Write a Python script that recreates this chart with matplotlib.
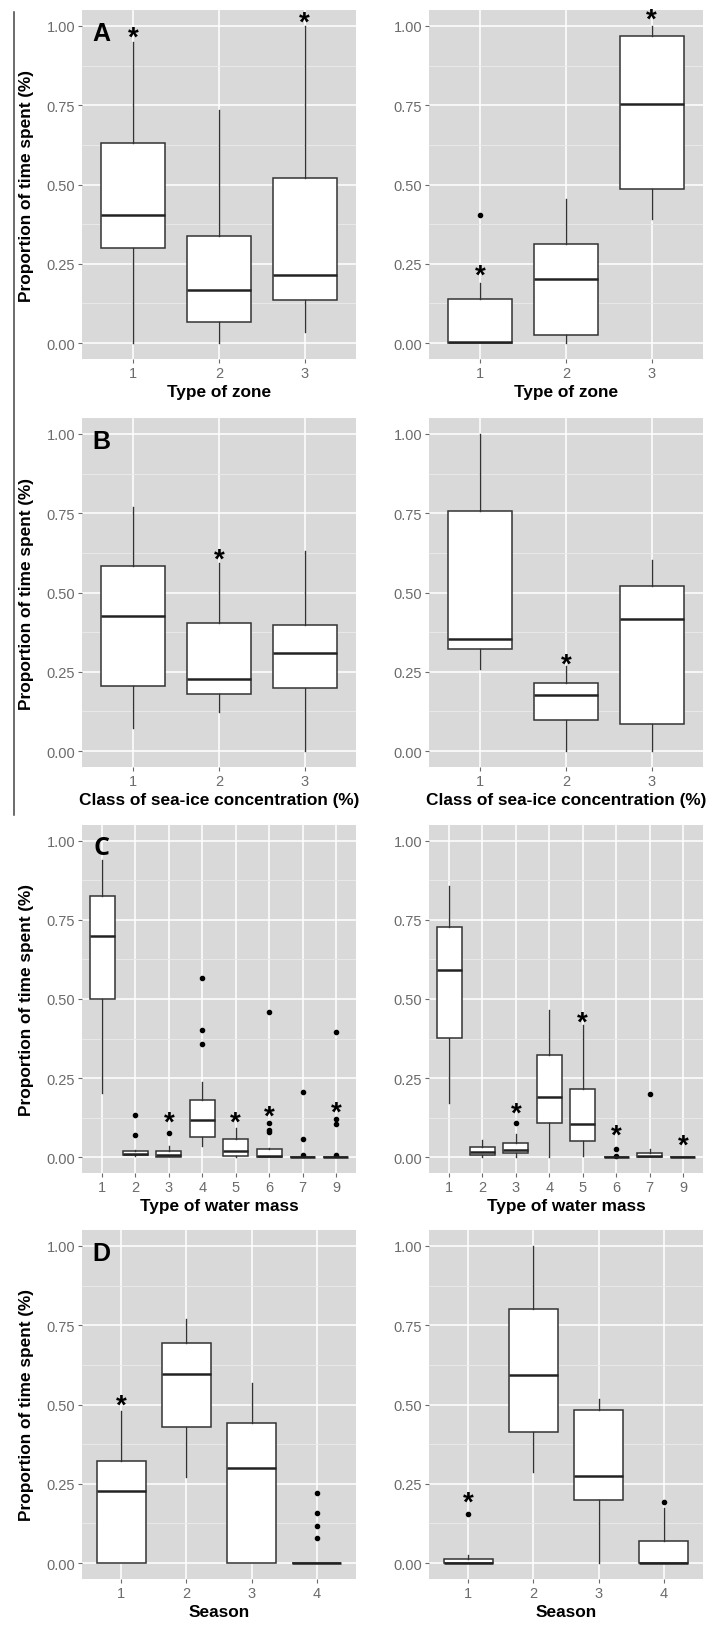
import numpy as np
import matplotlib
matplotlib.use("Agg")
import matplotlib.pyplot as plt
from matplotlib.lines import Line2D
from matplotlib import transforms

plt.rcParams['font.family'] = ['Liberation Sans', 'DejaVu Sans']

W, H = 708, 1631

# --- data: [whisker low, Q1, median, Q3, whisker high] ---
zone_cats = ['1', '2', '3']
zone_left = [[0.00, 0.299, 0.404, 0.632, 0.95],
             [0.00, 0.067, 0.168, 0.338, 0.734],
             [0.034, 0.136, 0.214, 0.519, 1.00]]
zone_left_fliers = [[], [], []]
zone_left_stars = [(1, 0.99), (3, 1.037)]
zone_right = [[0.00, 0.00, 0.004, 0.139, 0.191],
              [0.00, 0.026, 0.202, 0.312, 0.454],
              [0.391, 0.487, 0.753, 0.967, 1.00]]
zone_right_fliers = [[0.404], [], []]
zone_right_stars = [(1, 0.24), (3, 1.045)]

ice_cats = ['1', '2', '3']
ice_left = [[0.072, 0.205, 0.426, 0.582, 0.769],
            [0.123, 0.180, 0.226, 0.403, 0.593],
            [0.00, 0.199, 0.309, 0.398, 0.632]]
ice_left_fliers = [[], [], []]
ice_left_stars = [(2, 0.631)]
ice_right = [[0.258, 0.321, 0.355, 0.757, 1.00],
             [0.00, 0.099, 0.177, 0.215, 0.267],
             [0.00, 0.085, 0.417, 0.521, 0.602]]
ice_right_fliers = [[], [], []]
ice_right_stars = [(2, 0.299)]

water_cats = ['1', '2', '3', '4', '5', '6', '7', '9']
water_left = [[0.203, 0.499, 0.700, 0.825, 0.938],
              [0.003, 0.007, 0.011, 0.021, 0.024],
              [0.00, 0.002, 0.007, 0.018, 0.035],
              [0.034, 0.065, 0.119, 0.181, 0.239],
              [0.00, 0.003, 0.021, 0.056, 0.092],
              [0.00, 0.00, 0.005, 0.026, 0.03],
              [0.00, 0.00, 0.00, 0.00, 0.00],
              [0.00, 0.00, 0.00, 0.00, 0.00]]
water_left_fliers = [[], [0.132, 0.071], [0.076], [0.565, 0.403, 0.359], [],
                     [0.458, 0.108, 0.085, 0.080], [0.207, 0.058, 0.007],
                     [0.397, 0.122, 0.104, 0.007]]
water_left_stars = [(3, 0.134), (5, 0.134), (6, 0.153), (8, 0.168)]
water_right = [[0.172, 0.376, 0.592, 0.729, 0.858],
               [0.00, 0.006, 0.016, 0.031, 0.053],
               [0.00, 0.012, 0.023, 0.045, 0.074],
               [0.00, 0.109, 0.191, 0.324, 0.465],
               [0.003, 0.051, 0.104, 0.214, 0.419],
               [0.00, 0.00, 0.00, 0.00, 0.00],
               [0.00, 0.00, 0.003, 0.014, 0.026],
               [0.00, 0.00, 0.00, 0.00, 0.00]]
water_right_fliers = [[], [], [0.108], [], [], [0.027, 0.005], [0.199], []]
water_right_stars = [(3, 0.163), (5, 0.45), (6, 0.095), (8, 0.063)]

season_cats = ['1', '2', '3', '4']
season_left = [[0.00, 0.00, 0.227, 0.322, 0.478],
               [0.272, 0.429, 0.597, 0.694, 0.77],
               [0.00, 0.00, 0.301, 0.442, 0.569],
               [0.00, 0.00, 0.00, 0.00, 0.00]]
season_left_fliers = [[], [], [], [0.221, 0.158, 0.117, 0.080]]
season_left_stars = [(1, 0.522)]
season_right = [[0.00, 0.00, 0.001, 0.012, 0.027],
                [0.288, 0.412, 0.593, 0.800, 1.00],
                [0.00, 0.200, 0.274, 0.482, 0.517],
                [0.00, 0.00, 0.00, 0.071, 0.173]]
season_right_fliers = [[0.156], [], [], [0.194]]
season_right_stars = [(1, 0.218)]

rows = [
    ('A', 'Type of zone', zone_cats, zone_left, zone_left_fliers, zone_left_stars,
     zone_right, zone_right_fliers, zone_right_stars),
    ('B', 'Class of sea-ice concentration (%)', ice_cats, ice_left, ice_left_fliers,
     ice_left_stars, ice_right, ice_right_fliers, ice_right_stars),
    ('C', 'Type of water mass', water_cats, water_left, water_left_fliers,
     water_left_stars, water_right, water_right_fliers, water_right_stars),
    ('D', 'Season', season_cats, season_left, season_left_fliers, season_left_stars,
     season_right, season_right_fliers, season_right_stars),
]

# panel pixel boxes (top, bottom) per row, (left, right) per column
row_px = [(11, 360), (419, 768), (826, 1174), (1231, 1580)]
col_px = [(82, 356), (429, 703)]

fig = plt.figure(figsize=(W / 100, H / 100), dpi=100)


def add_px_axes(l, t, r, b):
    return fig.add_axes([l / W, 1 - b / H, (r - l) / W, (b - t) / H])


def draw_panel(ax, cats, stats, fliers, stars, xlabel, ylabel, letter):
    ax.set_facecolor('#d9d9d9')
    for s in ax.spines.values():
        s.set_visible(False)
    n = len(cats)
    bxs = []
    for st, fl in zip(stats, fliers):
        bxs.append(dict(whislo=st[0], q1=st[1], med=st[2], q3=st[3],
                        whishi=st[4], fliers=fl))
    ax.bxp(bxs, positions=np.arange(1, n + 1), widths=0.75, patch_artist=True,
           showcaps=False,
           boxprops=dict(facecolor='white', edgecolor='#333333', linewidth=1.1),
           medianprops=dict(color='#222222', linewidth=1.8),
           whiskerprops=dict(color='#333333', linewidth=1.0),
           flierprops=dict(marker='o', markersize=3.0, markerfacecolor='black',
                           markeredgecolor='black', linestyle='none'),
           zorder=3)
    ax.set_xlim(0.4, n + 0.6)
    ax.set_ylim(-0.05, 1.05)
    ax.set_yticks([0, 0.25, 0.5, 0.75, 1.0])
    ax.set_yticklabels(['0.00', '0.25', '0.50', '0.75', '1.00'])
    ax.set_yticks([0.125, 0.375, 0.625, 0.875], minor=True)
    ax.set_xticks(np.arange(1, n + 1))
    ax.set_xticklabels(cats)
    ax.grid(which='major', color='white', linewidth=1.1, zorder=0)
    ax.grid(which='minor', axis='y', color='#ebebeb', linewidth=0.6, zorder=0)
    ax.set_axisbelow(True)
    ax.tick_params(which='major', length=3, width=0.8, color='#6b6b6b',
                   labelcolor='#6b6b6b', labelsize=10.5, pad=2)
    ax.tick_params(which='minor', length=0)
    ax.set_xlabel(xlabel, fontsize=12.4, fontweight='bold', labelpad=3)
    if ylabel:
        ax.set_ylabel(ylabel, fontsize=12.4, fontweight='bold', labelpad=9)
    star_tr = transforms.offset_copy(ax.transData, fig=fig, y=-11, units='points')
    for xi, yv in stars:
        ax.text(xi, yv, '*', transform=star_tr, ha='center', va='baseline',
                fontsize=20, fontweight='bold', color='black', zorder=5)
    if letter:
        fam = ['Open Sans', 'DejaVu Sans'] if letter == 'C' else None
        ax.text(0.072, 0.934, letter, transform=ax.transAxes, ha='center',
                va='center', fontsize=18, fontweight='bold', family=fam, zorder=5)


for (letter, xlabel, cats, sl, fl, stl, sr, fr, strr), (t, b) in zip(rows, row_px):
    axl = add_px_axes(col_px[0][0], t, col_px[0][1], b)
    draw_panel(axl, cats, sl, fl, stl, xlabel, 'Proportion of time spent (%)', letter)
    axr = add_px_axes(col_px[1][0], t, col_px[1][1], b)
    draw_panel(axr, cats, sr, fr, strr, xlabel, None, None)

# vertical rule at the far left of rows A and B
fig.add_artist(Line2D([14 / W, 14 / W], [1 - 13 / H, 1 - 816 / H],
                      color='#444444', linewidth=1.1))

fig.savefig('out.png', dpi=100)
